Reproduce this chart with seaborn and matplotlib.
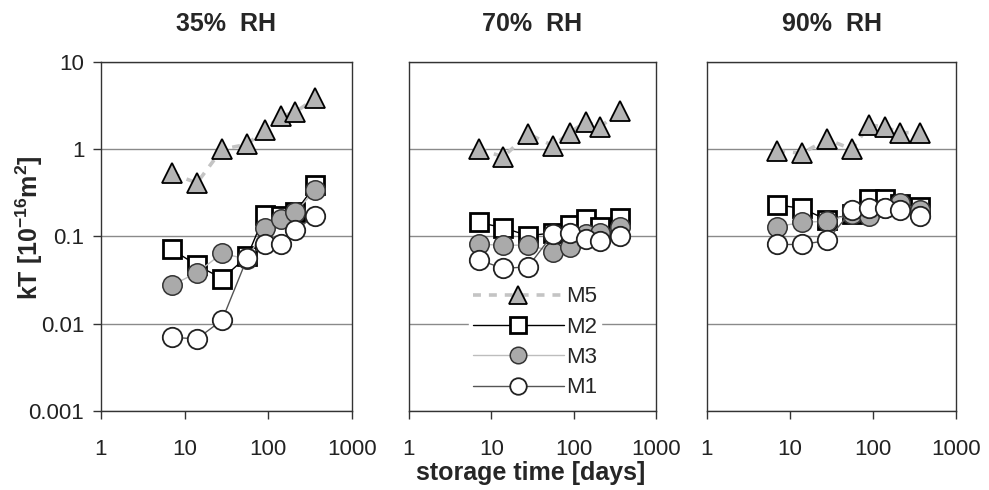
import numpy as np
import pandas as pd
import matplotlib
matplotlib.use("Agg")
import matplotlib.pyplot as plt
import seaborn as sns
from matplotlib.ticker import FixedLocator, FuncFormatter, NullLocator

sns.set_style("white")
plt.rcParams['font.family'] = ['Liberation Sans', 'DejaVu Sans']
plt.rcParams['mathtext.default'] = 'regular'

# storage times (days)
days = [7, 14, 28, 56, 90, 140, 210, 365]
panels = ['35%  RH', '70%  RH', '90%  RH']

# kT values per material and humidity
m5_35 = [0.53, 0.41, 1.0, 1.14, 1.67, 2.4, 2.66, 3.85]
m2_35 = [0.071, 0.047, 0.033, 0.059, 0.176, 0.17, 0.19, 0.39]
m3_35 = [0.0275, 0.0385, 0.064, 0.055, 0.124, 0.158, 0.19, 0.34]
m1_35 = [0.0070, 0.0067, 0.011, 0.057, 0.083, 0.083, 0.118, 0.174]

m5_70 = [1.0, 0.82, 1.5, 1.1, 1.55, 2.07, 1.8, 2.74]
m2_70 = [0.145, 0.126, 0.102, 0.11, 0.135, 0.16, 0.13, 0.165]
m3_70 = [0.082, 0.079, 0.08, 0.067, 0.075, 0.107, 0.11, 0.128]
m1_70 = [0.054, 0.043, 0.045, 0.107, 0.11, 0.093, 0.088, 0.1]

m5_90 = [0.96, 0.9, 1.3, 1.0, 1.9, 1.8, 1.55, 1.55]
m2_90 = [0.23, 0.21, 0.155, 0.18, 0.27, 0.27, 0.235, 0.22]
m3_90 = [0.13, 0.145, 0.15, 0.18, 0.17, 0.21, 0.24, 0.2]
m1_90 = [0.081, 0.081, 0.09, 0.2, 0.21, 0.21, 0.2, 0.17]

data = {
    '35%  RH': {'M5': m5_35, 'M2': m2_35, 'M3': m3_35, 'M1': m1_35},
    '70%  RH': {'M5': m5_70, 'M2': m2_70, 'M3': m3_70, 'M1': m1_70},
    '90%  RH': {'M5': m5_90, 'M2': m2_90, 'M3': m3_90, 'M1': m1_90},
}

styles = {
    'M5': dict(color='#c4c4c4', linestyle=(0, (2.2, 2.2)), linewidth=2.6, marker='^',
               markersize=15, markerfacecolor='#b4b4b4', markeredgecolor='black', markeredgewidth=1.3),
    'M2': dict(color='black', linestyle='-', linewidth=1, marker='s',
               markersize=13, markerfacecolor='white', markeredgecolor='black', markeredgewidth=2),
    'M3': dict(color='#bdbdbd', linestyle='-', linewidth=1, marker='o',
               markersize=14, markerfacecolor='#aaaaaa', markeredgecolor='#333333', markeredgewidth=1.1),
    'M1': dict(color='#555555', linestyle='-', linewidth=1, marker='o',
               markersize=14, markerfacecolor='white', markeredgecolor='#222222', markeredgewidth=1.3),
}

fig = plt.figure(figsize=(9.89, 4.9), dpi=100)
lefts = [101 / 989, 409 / 989, 707 / 989]
widths = [251 / 989, 247 / 989, 249 / 989]
bottom = 79 / 490
height = 349 / 490

for i, name in enumerate(panels):
    ax = fig.add_axes([lefts[i], bottom, widths[i], height])
    for m in ['M5', 'M2', 'M3', 'M1']:
        df = pd.DataFrame({'days': days, 'kT': data[name][m]})
        sns.lineplot(data=df, x='days', y='kT', ax=ax, label=m, zorder=3, **styles[m])
    ax.set_xscale('log')
    ax.set_yscale('log')
    ax.set_xlim(1, 1000)
    ax.set_ylim(0.001, 10)
    ax.xaxis.set_major_locator(FixedLocator([1, 10, 100, 1000]))
    ax.yaxis.set_major_locator(FixedLocator([0.001, 0.01, 0.1, 1, 10]))
    ax.xaxis.set_minor_locator(NullLocator())
    ax.yaxis.set_minor_locator(NullLocator())
    ax.xaxis.set_major_formatter(FuncFormatter(lambda v, p: '%g' % v))
    ax.yaxis.set_major_formatter(FuncFormatter(lambda v, p: '%g' % v))
    ax.grid(axis='y', color='#8a8a8a', linewidth=1)
    ax.set_axisbelow(True)
    for s in ax.spines.values():
        s.set_color('#333333')
        s.set_linewidth(1)
    ax.tick_params(axis='both', direction='out', length=6, width=1, color='#333333',
                   labelsize=16, labelcolor='#222222', bottom=True, left=(i == 0))
    ax.tick_params(axis='x', pad=14)
    ax.tick_params(axis='y', pad=6)
    if i > 0:
        ax.tick_params(axis='y', labelleft=False)
    ax.set_xlabel('')
    ax.set_ylabel('')
    ax.set_title(name, fontsize=18, fontweight='bold', pad=22)
    if i == 1:
        leg = ax.legend(loc='lower center', bbox_to_anchor=(0.51, -0.005), fontsize=16,
                        frameon=True, facecolor='white', edgecolor='white', framealpha=1,
                        handlelength=4.1, handletextpad=0.1, labelspacing=0.42, borderpad=0.15,
                        markerscale=0.85)
    else:
        ax.get_legend().remove()

fig.text(0.537, 1 - 473 / 490, 'storage time [days]', ha='center', va='center',
         fontsize=18, fontweight='bold')
fig.text(0.030, 1 - 228 / 490, 'kT [10$^{-16}$m$^{2}$]', ha='center', va='center',
         rotation=90, fontsize=18, fontweight='bold')

fig.savefig('out.png', dpi=100)
